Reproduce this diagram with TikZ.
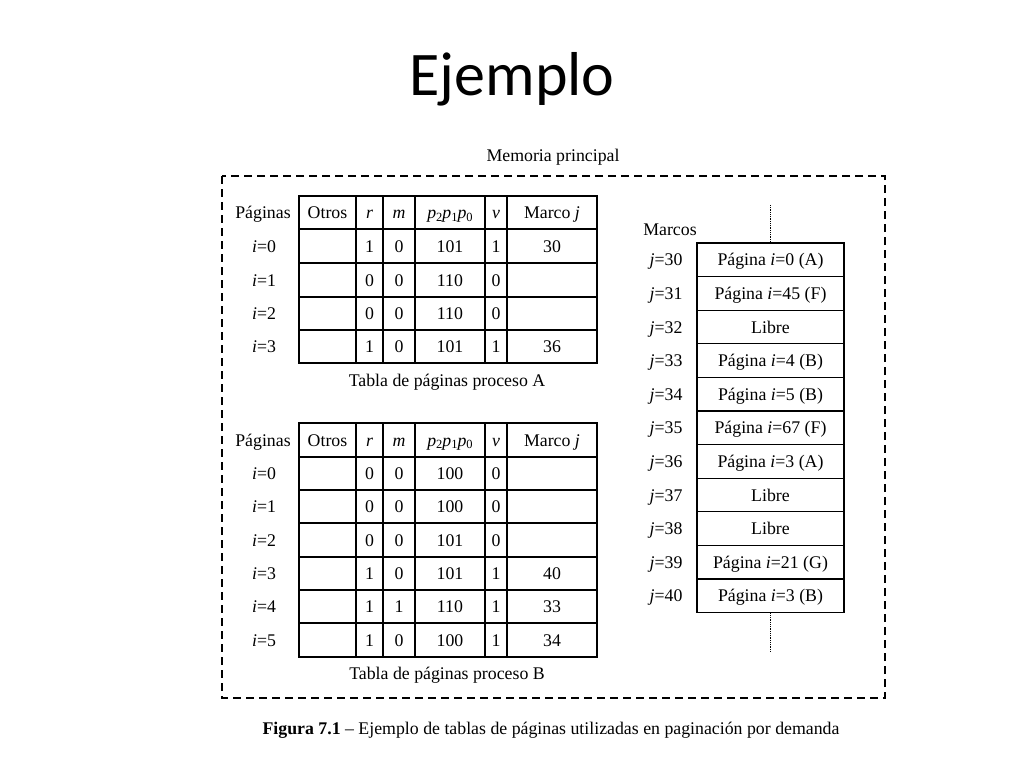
\documentclass[tikz,border=0pt]{standalone}
\usepackage{fontspec}
\setmainfont{Liberation Serif}
\newfontfamily\titlefont{Carlito}
\begin{document}
\begin{tikzpicture}[x=1pt,y=-1pt,
  cell/.style={draw,line width=1.1pt},
  txt/.style={font=\fontsize{17.8}{20}\selectfont,inner sep=0pt,anchor=center,text height=13pt,text depth=1pt},
  framebox/.style={draw,line width=1.1pt,minimum width=147pt,minimum height=33.6pt,inner sep=0pt,text height=13pt,text depth=1pt,font=\fontsize{17.8}{20}\selectfont},
  memdash/.style={draw,line width=1.3pt,dash pattern=on 8pt off 5pt},
  dots/.style={draw,line width=0.8pt,densely dotted}]
\useasboundingbox (0,0) rectangle (1024,768);
\newcommand{\ppp}{\textit{p}\raisebox{-0.35ex}{\fontsize{12.5}{13}\selectfont 2}\textit{p}\raisebox{-0.35ex}{\fontsize{12.5}{13}\selectfont 1}\textit{p}\raisebox{-0.35ex}{\fontsize{12.5}{13}\selectfont 0}}
% title
\node[font=\fontsize{62}{68}\selectfont\titlefont,inner sep=0pt,anchor=base] (title) at (512,95) {Ejemplo};
\node[txt] (mem) at (553,155) {Memoria principal};
\draw[memdash] (222,176) rectangle (885,698);
% Table A
\foreach \y/\h in {196/33,229/34,263/34,297/33,330/33}{
  \foreach \x/\w in {299/57,356/27,383/32,415/70,485/22,507/90}{
    \draw[cell] (\x,\y) rectangle ++(\w,\h);
  }
}
\node[txt] (ahp) at (263,212.5) {Páginas};
\node[txt] (aho) at (327.5,212.5) {Otros};
\node[txt] (ahr) at (369.5,212.5) {\textit{r}};
\node[txt] (ahm) at (399,212.5) {\textit{m}};
\node[txt] (ahq) at (450,212.5) {\ppp};
\node[txt] (ahv) at (496,212.5) {\textit{v}};
\node[txt] (ahj) at (552,212.5) {Marco \textit{j}};
\foreach \n/\y/\r/\m/\p/\v/\j in {0/246/1/0/101/1/30,1/280/0/0/110/0/,2/313.5/0/0/110/0/,3/346.5/1/0/101/1/36}{
  \node[txt] (ai\n) at (264,\y) {\textit{i}=\n};
  \node[txt] (ar\n) at (369.5,\y) {\r};
  \node[txt] (am\n) at (399,\y) {\m};
  \node[txt] (ap\n) at (450,\y) {\p};
  \node[txt] (av\n) at (496,\y) {\v};
  \node[txt] (aj\n) at (552,\y) {\j};
}
\node[txt] (capA) at (447,380) {Tabla de páginas proceso A};
% Table B
\foreach \y/\h in {423/34,457/33,490/33,523/34,557/33,590/33,623/34}{
  \foreach \x/\w in {299/57,356/27,383/32,415/70,485/22,507/90}{
    \draw[cell] (\x,\y) rectangle ++(\w,\h);
  }
}
\node[txt] (bhp) at (263,440) {Páginas};
\node[txt] (bho) at (327.5,440) {Otros};
\node[txt] (bhr) at (369.5,440) {\textit{r}};
\node[txt] (bhm) at (399,440) {\textit{m}};
\node[txt] (bhq) at (450,440) {\ppp};
\node[txt] (bhv) at (496,440) {\textit{v}};
\node[txt] (bhj) at (552,440) {Marco \textit{j}};
\foreach \n/\y/\r/\m/\p/\v/\j in {0/473.5/0/0/100/0/,1/506.5/0/0/100/0/,2/540/0/0/101/0/,3/573.5/1/0/101/1/40,4/606.5/1/1/110/1/33,5/640/1/0/100/1/34}{
  \node[txt] (bi\n) at (264,\y) {\textit{i}=\n};
  \node[txt] (br\n) at (369.5,\y) {\r};
  \node[txt] (bm\n) at (399,\y) {\m};
  \node[txt] (bp\n) at (450,\y) {\p};
  \node[txt] (bv\n) at (496,\y) {\v};
  \node[txt] (bj\n) at (552,\y) {\j};
}
\node[txt] (capB) at (447,673) {Tabla de páginas proceso B};
% Frames
\node[txt] (marcos) at (670,229) {Marcos};
\foreach \k/\t in {0/{Página \textit{i}=0 (A)},1/{Página \textit{i}=45 (F)},2/{Libre},3/{Página \textit{i}=4 (B)},4/{Página \textit{i}=5 (B)},5/{Página \textit{i}=67 (F)},6/{Página \textit{i}=3 (A)},7/{Libre},8/{Libre},9/{Página \textit{i}=21 (G)},10/{Página \textit{i}=3 (B)}}{
  \node[framebox] (f\k) at (770.5,{259.8+33.6*\k}) {\t};
  \pgfmathtruncatemacro{\jj}{30+\k}
  \node[txt] (fl\k) at (666,{259.8+33.6*\k}) {\textit{j}=\jj};
}
\coordinate (dtop) at (770.5,205);
\coordinate (dbot) at (770.5,652);
\draw[dots] (dtop) -- (f0.north);
\draw[dots] (f10.south) -- (dbot);
% caption
\node[txt] (fig) at (551,728) {\textbf{Figura 7.1} -- Ejemplo de tablas de páginas utilizadas en paginación por demanda};
\end{tikzpicture}
\end{document}
